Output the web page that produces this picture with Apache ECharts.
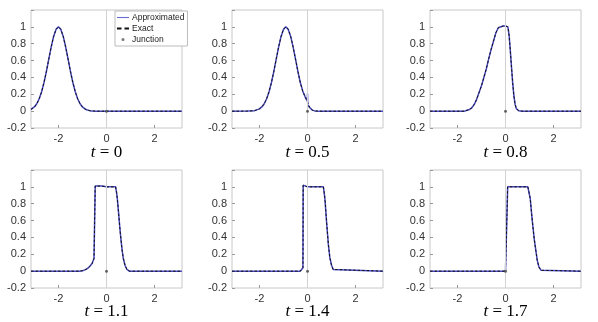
<!DOCTYPE html>
<html><head><meta charset="utf-8">
<script src="https://cdn.jsdelivr.net/npm/echarts@6/dist/echarts.min.js"></script>
<style>html,body{margin:0;padding:0;background:#fff}#c{width:598px;height:322px}</style>
</head><body><div id="c"></div>
<script>
// ---- data ----
var titles = ['0', '0.5', '0.8', '1.1', '1.4', '1.7'];
var xTicks = [-2, 0, 2];
var junction = [0, 0];

var x1 = [-3.14,-3.0,-2.9,-2.8,-2.7,-2.6,-2.5,-2.4,-2.3,-2.2,-2.1,-2.0,-1.9,-1.8,-1.7,-1.6,-1.5,-1.4,-1.3,-1.2,-1.1,-1.0,-0.9,-0.8,-0.7,-0.6,-0.4,3.14];
var y1 = [0.02,0.05,0.088,0.147,0.23,0.34,0.472,0.619,0.763,0.887,0.97,1.0,0.97,0.887,0.763,0.619,0.472,0.34,0.23,0.147,0.088,0.05,0.027,0.013,0.006,0.003,0,0];

var x2 = [-3.14,-2.5,-2.2,-2.0,-1.9,-1.8,-1.7,-1.6,-1.5,-1.4,-1.3,-1.2,-1.1,-1.0,-0.9,-0.8,-0.7,-0.6,-0.5,-0.4,-0.3,-0.2,-0.1,0.0,0.1,0.2,0.3,0.5,3.14];
var y2 = [0,0.0005,0.006,0.027,0.05,0.088,0.147,0.23,0.34,0.472,0.619,0.763,0.887,0.97,1.0,0.97,0.887,0.763,0.619,0.472,0.34,0.24,0.17,0.11,0.04,0.012,0.003,0,0];
var x2a = [-3.14,-2.5,-2.2,-2.0,-1.9,-1.8,-1.7,-1.6,-1.5,-1.4,-1.3,-1.2,-1.1,-1.0,-0.9,-0.8,-0.7,-0.6,-0.5,-0.4,-0.3,-0.2,-0.1,-0.01,0.0,0.01,0.1,0.2,0.3,0.5,3.14];
var y2a = [0,0.0005,0.006,0.027,0.05,0.088,0.147,0.23,0.34,0.472,0.619,0.763,0.887,0.97,1.0,0.97,0.887,0.763,0.619,0.472,0.34,0.24,0.17,0.12,0.21,0.07,0.04,0.012,0.003,0,0];

var x3 = [-3.14,-1.7,-1.6,-1.5,-1.4,-1.3,-1.2,-1.1,-1.0,-0.9,-0.8,-0.7,-0.6,-0.5,-0.4,-0.3,-0.25,-0.1,0.0,0.1,0.15,0.2,0.25,0.3,0.35,0.4,0.45,0.55,0.7,3.14];
var y3 = [0,0,0.01,0.02,0.04,0.08,0.14,0.22,0.30,0.40,0.50,0.62,0.73,0.83,0.93,0.99,1.01,1.01,1.01,1.0,0.90,0.72,0.52,0.33,0.18,0.08,0.03,0.005,0,0];

var x4 = [-3.14,-1.15,-1.0,-0.9,-0.8,-0.7,-0.6,-0.52,-0.48,-0.47,-0.2,0.0,0.38,0.42,0.45,0.5,0.55,0.6,0.65,0.7,0.77,0.85,0.95,3.14];
var y4 = [0,0,0.005,0.015,0.03,0.055,0.09,0.15,0.17,1.01,1.01,1.0,1.0,0.93,0.86,0.70,0.53,0.38,0.25,0.15,0.07,0.02,0,0];

var x5 = [-3.14,-0.3,-0.22,-0.19,-0.18,0.0,0.66,0.7,0.73,0.8,0.87,0.93,1.0,1.07,1.15,3.14];
var y5 = [0,0,0.02,0.04,1.02,1.0,1.0,0.92,0.84,0.56,0.31,0.16,0.07,0.02,0,0];

var x6 = [-3.14,0.0,0.07,0.09,0.93,0.98,1.03,1.1,1.14,1.2,1.26,1.32,1.39,1.48,1.56,3.14];
var y6 = [0,0,0.02,1.0,1.0,0.93,0.86,0.64,0.53,0.37,0.25,0.13,0.05,0.01,0,0];

var exactX = [x1, x2, x3, x4, x5, x6];
var exactY = [y1, y2, y3, y4, y5, y6];
var approxX = [x1, x2a, x3, x4, x5, x6];
var approxY = [y1, y2a, y3, y4, y5, y6];

// ---- layout ----
var colLeft = [31, 232, 430];
var rowTop = [10, 170];
var pw = 151, ph = 118;
var titleY = [153, 312];
var blue = '#4a4ac4';

function pairs(xs, ys) { return xs.map(function (x, i) { return [x, ys[i]]; }); }

var grids = [], xAxes = [], yAxes = [], series = [], graphics = [];
var lab = { fontFamily: 'Liberation Sans, Arial, sans-serif', fontSize: 11, color: '#333' };
for (var i = 0; i < 6; i++) {
  var r = Math.floor(i / 3), c = i % 3;
  grids.push({ left: colLeft[c], top: rowTop[r], width: pw, height: ph, show: true,
    borderColor: '#c8c8c8', borderWidth: 1, backgroundColor: '#fff', containLabel: false });
  xAxes.push({ gridIndex: i, type: 'value', min: -3.14159, max: 3.14159, position: 'bottom',
    axisLine: { show: false, onZero: false },
    axisTick: { inside: true, length: 3, customValues: xTicks, lineStyle: { color: '#999' } },
    axisLabel: Object.assign({ customValues: xTicks, margin: 5 }, lab),
    splitLine: { show: false } });
  yAxes.push({ gridIndex: i, type: 'value', min: -0.2, max: 1.2, interval: 0.2, position: 'left',
    axisLine: { show: false, onZero: false },
    axisTick: { inside: true, length: 3, lineStyle: { color: '#999' } },
    axisLabel: Object.assign({ margin: 5, formatter: function (v) { return v > 1.1 ? '' : String(+v.toFixed(1)); } }, lab),
    splitLine: { show: false } });
  series.push({ name: 'Approximated', type: 'line', xAxisIndex: i, yAxisIndex: i,
    data: pairs(approxX[i], approxY[i]), showSymbol: false, symbol: 'none', animation: false,
    lineStyle: { color: blue, width: 1.5 }, itemStyle: { color: blue },
    markLine: { silent: true, symbol: 'none', animation: false, label: { show: false },
      lineStyle: { color: '#d2d2d2', width: 1, type: 'solid' }, data: [{ xAxis: 0 }] } });
  series.push({ name: 'Exact', type: 'line', xAxisIndex: i, yAxisIndex: i,
    data: pairs(exactX[i], exactY[i]), showSymbol: false, symbol: 'none', animation: false,
    lineStyle: { color: '#111', width: 1, type: [2.5, 2] }, itemStyle: { color: '#111' } });
  series.push({ name: 'Junction', type: 'scatter', xAxisIndex: i, yAxisIndex: i,
    data: [junction], symbol: 'circle', symbolSize: 3, animation: false, z: 5,
    itemStyle: { color: '#444' } });
  graphics.push({ type: 'text', x: colLeft[c] + pw / 2, y: titleY[r],
    style: { text: '{i|t} = ' + titles[i], align: 'center', verticalAlign: 'middle',
      fontFamily: 'Liberation Serif, DejaVu Serif, serif', fontSize: 17, fill: '#000',
      rich: { i: { fontStyle: 'italic', fontFamily: 'Liberation Serif, DejaVu Serif, serif', fontSize: 17 } } } });
}

var chart = echarts.init(document.getElementById('c'), null, { renderer: 'canvas' });
chart.setOption({
  animation: false,
  grid: grids, xAxis: xAxes, yAxis: yAxes, series: series, graphic: graphics,
  legend: {
    data: [
      { name: 'Approximated', icon: 'path://M0,0h24v2.2h-24z', itemStyle: { color: '#6a6ad0' } },
      { name: 'Exact', icon: 'path://M0,0h6v2.4h-6zM10,0h6v2.4h-6z', itemStyle: { color: '#111' } },
      { name: 'Junction', icon: 'path://M0,0h0.01v0.01h-0.01zM24,18h0.01v0.01h-0.01zM9,9a3,3 0 1,0 6,0a3,3 0 1,0 -6,0z', itemStyle: { color: '#555' } }
    ],
    orient: 'vertical', left: 115, top: 11, symbolKeepAspect: true,
    itemWidth: 12, itemHeight: 9, itemGap: 2, padding: [2, 3, 2, 2],
    borderColor: '#bbb', borderWidth: 1, backgroundColor: '#fff', z: 10,
    textStyle: { fontFamily: 'Liberation Sans, Arial, sans-serif', fontSize: 8.5, color: '#222', padding: [0, 0, 0, -2] } }
});
</script></body></html>
